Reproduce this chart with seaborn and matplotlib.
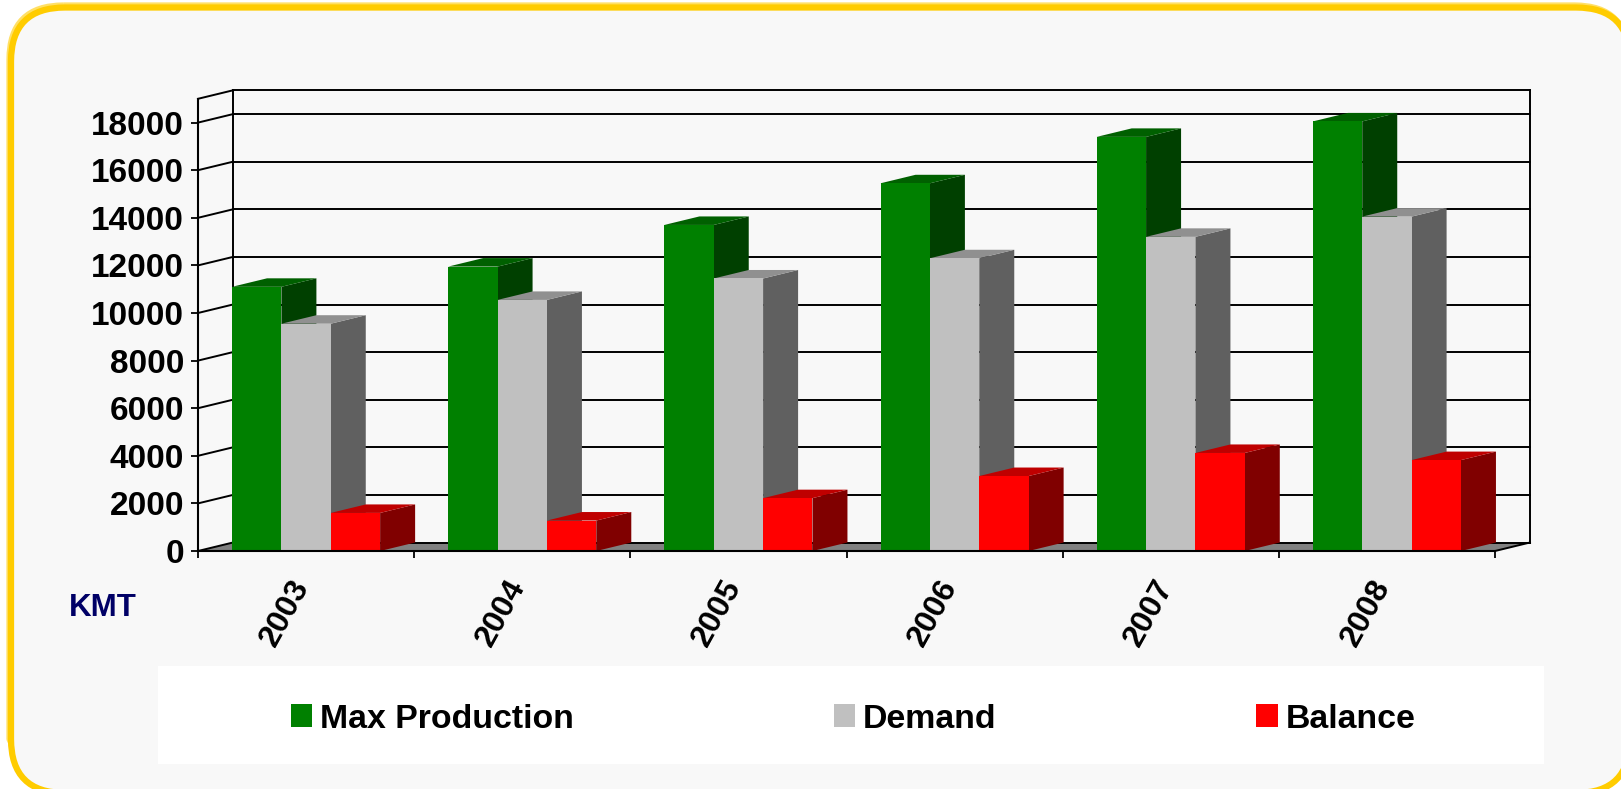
import numpy as np
import pandas as pd
import matplotlib.pyplot as plt
import seaborn as sns
from matplotlib.patches import FancyBboxPatch, Polygon, Rectangle
from matplotlib.transforms import ScaledTranslation

years = ["2003", "2004", "2005", "2006", "2007", "2008"]
max_production = [11100, 11950, 13700, 15450, 17400, 18050]
demand = [9550, 10550, 11450, 12300, 13200, 14050]
balance = [1600, 1280, 2220, 3150, 4120, 3820]
y_ticks = [0, 2000, 4000, 6000, 8000, 10000, 12000, 14000, 16000, 18000]
series_names = ["Max Production", "Demand", "Balance"]
series_colors = ["#008000", "#C0C0C0", "#FF0000"]


def shade(color, factor):
    r, g, b = plt.matplotlib.colors.to_rgb(color)
    return (r * factor, g * factor, b * factor)


def main():
    sns.set_theme(style="white")
    plt.rcParams["font.family"] = ["Liberation Sans", "DejaVu Sans"]
    plt.rcParams["font.weight"] = "bold"

    df = pd.DataFrame({
        "Year": years * 3,
        "Series": np.repeat(series_names, len(years)),
        "Value": max_production + demand + balance,
    })

    fig = plt.figure(figsize=(16.21, 7.89), dpi=100, facecolor="white")

    # Background panel, laid out in pixels of the figure
    bg = fig.add_axes([0, 0, 1, 1], zorder=-1)
    bg.set_xlim(0, 1621)
    bg.set_ylim(789, 0)
    bg.axis("off")
    box = "round,pad=0,rounding_size=54"
    bg.add_patch(FancyBboxPatch((13, 10), 1619, 786, boxstyle=box, fc="none", ec="#8A6D00", lw=4.5))
    bg.add_patch(FancyBboxPatch((9.5, 5.5), 1619, 787, boxstyle=box, fc="none", ec="#FFE066", lw=4.5))
    bg.add_patch(FancyBboxPatch((11, 7.5), 1619, 785.5, boxstyle=box, fc="#F8F8F8", ec="#FFCC00", lw=4.5))
    bg.add_patch(Rectangle((158, 666), 1386, 98, fc="white", ec="none"))
    bg.text(69, 608, "KMT", color="#000066", fontsize=22.5, fontweight="bold", va="center", ha="left")

    ax = fig.add_axes([198 / 1621, (789 - 551) / 789, 1297 / 1621, 452.2 / 789])
    ax.patch.set_alpha(0)

    sns.barplot(
        data=df, x="Year", y="Value", hue="Series",
        order=years, hue_order=series_names, palette=series_colors,
        width=0.685, gap=0, saturation=1, linewidth=0, ax=ax,
    )
    handles, labels = ax.get_legend_handles_labels()
    ax.legend_.remove()

    ax.set_xlim(-0.5, 5.5)
    ax.set_ylim(0, 19000)
    x0, x1 = ax.get_xlim()
    y0, y1 = ax.get_ylim()

    # Depth of the fake 3D box, in data units
    dx = 35 / (1297 / 6)
    dy = 8.5 / (452.2 / 19000)

    # Floor
    ax.add_patch(Polygon(
        [(x0, 0), (x1, 0), (x1 + dx, dy), (x0 + dx, dy)],
        fc="#808080", ec="none", zorder=0.5, clip_on=False,
    ))

    # Back wall and side wall grid
    line_kw = dict(color="black", lw=1.4, clip_on=False, zorder=1, solid_capstyle="projecting")
    for v in y_ticks + [y1]:
        ax.plot([x0 + dx, x1 + dx], [v + dy, v + dy], **line_kw)
        ax.plot([x0, x0 + dx], [v, v + dy], **line_kw)
    ax.plot([x0 + dx, x0 + dx], [dy, y1 + dy], **line_kw)
    ax.plot([x1 + dx, x1 + dx], [dy, y1 + dy], **line_kw)
    ax.plot([x1, x1 + dx], [0, dy], **line_kw)

    # Side and top faces from the bars seaborn drew
    n_cat = len(years)
    for i, bar in enumerate(ax.patches[:n_cat * len(series_names)]):
        hue_i, cat_i = i // n_cat, i % n_cat
        color = series_colors[hue_i]
        z = 3 + cat_i * 0.1 + hue_i * 0.01
        left, right = bar.get_x(), bar.get_x() + bar.get_width()
        top = bar.get_height()
        bar.set_zorder(z + 0.005)
        ax.add_patch(Polygon(
            [(right, 0), (right + dx, dy), (right + dx, top + dy), (right, top)],
            fc=shade(color, 0.5), ec="none", zorder=z, clip_on=False,
        ))
        ax.add_patch(Polygon(
            [(left, top), (left + dx, top + dy), (right + dx, top + dy), (right, top)],
            fc=shade(color, 0.75), ec="none", zorder=z, clip_on=False,
        ))

    # Axes
    for side in ["top", "right"]:
        ax.spines[side].set_visible(False)
    for side in ["left", "bottom"]:
        ax.spines[side].set_linewidth(1.5)
        ax.spines[side].set_color("black")
        ax.spines[side].set_zorder(5)

    ax.set_xlabel("")
    ax.set_ylabel("")
    ax.set_yticks(y_ticks)
    ax.set_yticklabels([str(v) for v in y_ticks], fontsize=24, fontweight="bold", color="black")
    ax.tick_params(axis="y", left=True, length=5, width=1.3, pad=5, color="black")

    ax.set_xticks(np.arange(n_cat))
    ax.set_xticklabels(years, fontsize=23, fontweight="bold", color="black",
                       rotation=61, ha="right", va="top", rotation_mode="anchor")
    ax.set_xticks(np.arange(n_cat + 1) - 0.5, minor=True)
    ax.tick_params(axis="x", which="major", bottom=False, length=0, pad=17)
    ax.tick_params(axis="x", which="minor", bottom=True, length=5, width=1.3, color="black")
    shift = ScaledTranslation(-17 / 100, 0, fig.dpi_scale_trans)
    for label in ax.get_xticklabels():
        label.set_transform(label.get_transform() + shift)

    fig.legend(
        handles, labels, loc="center", bbox_to_anchor=(853 / 1621, 1 - 719 / 789),
        ncol=3, frameon=False, prop={"family": "Liberation Sans", "weight": "bold", "size": 24.4},
        labelcolor="black",
        handlelength=0.64, handleheight=0.64, handletextpad=0.22, columnspacing=7.67,
    )

    fig.savefig("out.png", dpi=100)
    plt.close(fig)


if __name__ == "__main__":
    main()
